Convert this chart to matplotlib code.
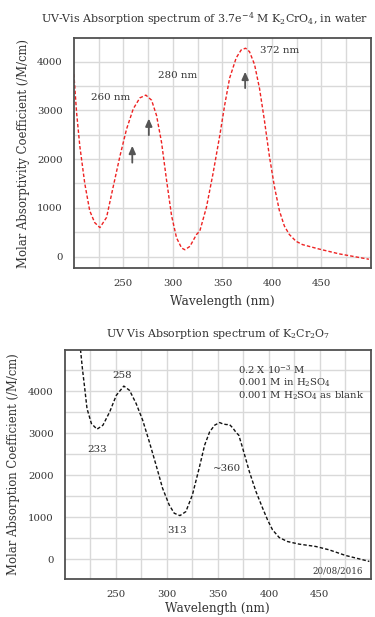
import numpy as np
import matplotlib
matplotlib.use('Agg')
import matplotlib.pyplot as plt

# K2CrO4 spectrum
wl_cro4 = [200, 202.7, 206, 211, 216, 221, 226.3, 233, 239.7, 246.5, 253.2, 260, 266.7,
           272.7, 278.5, 283.5, 288.6, 293.6, 298.7, 303.7, 308.8, 312.1, 317.2, 323.9,
           327.2, 333.9, 340.6, 347.3, 352.3, 357.3, 364, 369, 373.4, 377.4, 382.5,
           387.5, 392.5, 397.5, 402.6, 407.6, 412.6, 417.6, 424.4, 431, 447.8, 467.9, 498]
eps_cro4 = [3745, 2964, 2268, 1500, 941, 698, 594, 803, 1431, 2058, 2615, 3033, 3257,
            3313, 3209, 2895, 2337, 1569, 837, 385, 176, 140, 209, 454,
            523, 1012, 1709, 2477, 3105, 3661, 4079, 4240, 4276, 4205, 3941,
            3452, 2790, 2058, 1431, 941, 628, 454, 314, 245, 154, 56, -55]

# K2Cr2O7 spectrum
wl_cr2o7 = [215.3, 217.2, 219.5, 221.7, 226, 231.5, 237.3, 243.9, 250.4, 257.8, 263.4,
            269.9, 276.3, 282.8, 289.4, 295.8, 302.3, 307.2, 312.8, 318.6, 325, 331.6,
            337, 341.9, 346.8, 351.7, 354.9, 358.2, 361.4, 364.6, 367.9, 370.5, 374.4,
            380.9, 387.4, 393.9, 398.7, 403.6, 410.1, 418.2, 429.6, 445.9, 458.9, 475.1, 498.5]
eps_cr2o7 = [4998, 4539, 4064, 3589, 3232, 3097, 3192, 3508, 3904, 4126, 4023,
             3707, 3310, 2795, 2241, 1687, 1290, 1093, 1036, 1131, 1528, 2162,
             2716, 3032, 3192, 3256, 3223, 3208, 3208, 3128, 3018, 2954, 2638,
             2082, 1606, 1212, 934, 696, 514, 418, 356, 300, 221, 86, -57]

# arrows on top plot: (x, y_start, y_end)
arrow_x = [259, 275.7, 373]
arrow_y0 = [1870, 2435, 3400]
arrow_y1 = [2330, 2890, 3850]

top_labels = ['260 nm', '280 nm', '372 nm']
top_label_x = [237.5, 304.6, 408]
top_label_y = [3255, 3710, 4225]

bot_labels = ['258', '233', '313', '~360']
bot_label_x = [255.9, 231.7, 310, 358.5]
bot_label_y = [4370, 2620, 670, 2165]

xticks = [250, 300, 350, 400, 450]
yticks = [0, 1000, 2000, 3000, 4000]

plt.rcParams['font.family'] = ['DejaVu Serif']
plt.rcParams['mathtext.fontset'] = 'dejavuserif'

fig = plt.figure(figsize=(3.75, 6.17), dpi=100)
ax1 = fig.add_axes([0.197, 0.566, 0.792, 0.372])
ax2 = fig.add_axes([0.173, 0.062, 0.816, 0.371])

tc = '#333333'
for ax in (ax1, ax2):
    ax.set_xlim(200, 500)
    ax.set_xticks(xticks)
    ax.set_xticks(np.arange(225, 500, 25), minor=True)
    ax.set_yticks(yticks)
    ax.set_yticks(np.arange(-0, 5001, 500), minor=True)
    ax.grid(True, which='both', color='#d9d9d9', lw=1)
    ax.set_axisbelow(True)
    ax.tick_params(which='both', length=0, labelsize=7.3, colors=tc, pad=8)
    for s in ax.spines.values():
        s.set_color('#505050')
        s.set_linewidth(1.3)

ax1.set_ylim(-230, 4480)
ax2.set_ylim(-470, 4990)

ax1.plot(wl_cro4, eps_cro4, color='#ee2222', lw=1, dashes=(2.5, 1.5))
for x, y0, y1 in zip(arrow_x, arrow_y0, arrow_y1):
    ax1.annotate('', xy=(x, y1), xytext=(x, y0),
                 arrowprops=dict(arrowstyle='-|>,head_width=0.2,head_length=0.45',
                                 color='#555555', lw=1.3))
for t, x, y in zip(top_labels, top_label_x, top_label_y):
    ax1.text(x, y, t, ha='center', va='center', fontsize=7.4, color=tc)
ax1.set_xlabel('Wavelength (nm)', fontsize=8.7, color=tc, labelpad=5)
ax1.set_ylabel('Molar Absorptivity Coefficient (/M/cm)', fontsize=8.4, color=tc, labelpad=5)
ax1.set_title('UV-Vis Absorption spectrum of 3.7e$^{-4}$ M K$_2$CrO$_4$, in water',
              fontsize=7.9, color=tc, pad=11, x=0.44)

ax2.plot(wl_cr2o7, eps_cr2o7, color='#111111', lw=1, dashes=(2.5, 1.5))
for t, x, y in zip(bot_labels, bot_label_x, bot_label_y):
    ax2.text(x, y, t, ha='center', va='center', fontsize=7.4, color=tc)
ax2.text(369.8, 4210, '0.2 X 10$^{-3}$ M\n0.001 M in H$_2$SO$_4$\n0.001 M H$_2$SO$_4$ as blank',
         ha='left', va='center', fontsize=7.2, color=tc, linespacing=1.05)
ax2.text(492, -275, '20/08/2016', ha='right', va='center', fontsize=6.2, color=tc)
ax2.set_xlabel('Wavelength (nm)', fontsize=8.7, color=tc, labelpad=2)
ax2.set_ylabel('Molar Absorption Coefficient (/M/cm)', fontsize=8.4, color=tc, labelpad=6)
ax2.set_title('UV Vis Absorption spectrum of K$_2$Cr$_2$O$_7$', fontsize=7.9, color=tc, pad=9)

fig.savefig('out.png', dpi=100)
